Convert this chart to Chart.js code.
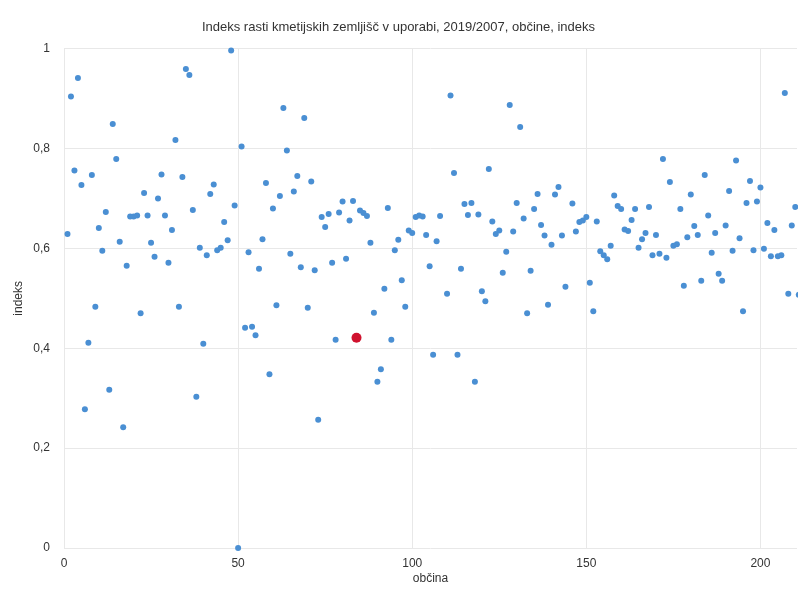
<!DOCTYPE html>
<html>
<head>
<meta charset="utf-8">
<script src="https://cdn.jsdelivr.net/npm/chart.js@4/dist/chart.umd.min.js"></script>
<style>
  html, body { margin: 0; padding: 0; background: #fff; }
  #wrap { width: 798px; height: 594px; }
</style>
</head>
<body>
<div id="wrap"><canvas id="myChart"></canvas></div>
<script>
// občina index (x) and growth index (y)
var obcina = [
  1, 2, 3, 4, 5, 6, 7, 8, 9, 10, 11, 12, 13, 14, 15, 16, 17, 18, 19, 20,
  21, 22, 23, 24, 25, 26, 27, 28, 29, 30, 31, 32, 33, 34, 35, 36, 37, 38, 39, 40,
  41, 42, 43, 44, 45, 46, 47, 48, 49, 50, 51, 52, 53, 54, 55, 56, 57, 58, 59, 60,
  61, 62, 63, 64, 65, 66, 67, 68, 69, 70, 71, 72, 73, 74, 75, 76, 77, 78, 79, 80,
  81, 82, 83, 84, 85, 86, 87, 88, 89, 90, 91, 92, 93, 94, 95, 96, 97, 98, 99, 100,
  101, 102, 103, 104, 105, 106, 107, 108, 110, 111, 112, 113, 114, 115, 116, 117, 118, 119, 120,
  121, 122, 123, 124, 125, 126, 127, 128, 129, 130, 131, 132, 133, 134, 135, 136, 137, 138, 139, 140,
  141, 142, 143, 144, 146, 147, 148, 149, 150, 151, 152, 153, 154, 155, 156, 157, 158, 159, 160,
  161, 162, 163, 164, 165, 166, 167, 168, 169, 170, 171, 172, 173, 174, 175, 176, 177, 178, 179, 180,
  181, 182, 183, 184, 185, 186, 187, 188, 189, 190, 191, 192, 193, 194, 195, 196, 197, 198, 199, 200,
  201, 202, 203, 204, 205, 206, 207, 208, 209, 210, 211
];
var indeks = [
  0.629, 0.904, 0.756, 0.941, 0.727, 0.278, 0.411, 0.747, 0.483, 0.641, 0.595, 0.673, 0.317, 0.849, 0.779, 0.613, 0.242, 0.565, 0.664, 0.664,
  0.666, 0.470, 0.711, 0.666, 0.611, 0.583, 0.700, 0.748, 0.666, 0.571, 0.637, 0.817, 0.483, 0.743, 0.959, 0.947, 0.677, 0.303, 0.601, 0.409,
  0.586, 0.709, 0.728, 0.596, 0.601, 0.653, 0.616, 0.996, 0.686, 0.000, 0.804, 0.441, 0.592, 0.443, 0.426, 0.559, 0.618, 0.731, 0.348, 0.680,
  0.486, 0.705, 0.881, 0.796, 0.589, 0.714, 0.745, 0.562, 0.861, 0.481, 0.734, 0.556, 0.257, 0.663, 0.643, 0.669, 0.571, 0.417, 0.672, 0.694,
  0.579, 0.656, 0.695, 0.421, 0.676, 0.671, 0.665, 0.611, 0.471, 0.333, 0.358, 0.519, 0.681, 0.417, 0.596, 0.617, 0.536, 0.483, 0.636, 0.631,
  0.663, 0.666, 0.664, 0.627, 0.564, 0.387, 0.614, 0.665, 0.509, 0.906, 0.751, 0.387, 0.559, 0.689, 0.667, 0.691, 0.333, 0.668, 0.514,
  0.494, 0.759, 0.654, 0.629, 0.636, 0.551, 0.593, 0.887, 0.634, 0.691, 0.843, 0.660, 0.470, 0.555, 0.679, 0.709, 0.647, 0.626, 0.487, 0.607,
  0.708, 0.723, 0.626, 0.523, 0.690, 0.634, 0.653, 0.656, 0.663, 0.531, 0.474, 0.654, 0.594, 0.586, 0.578, 0.605, 0.706, 0.685, 0.679,
  0.638, 0.635, 0.657, 0.679, 0.601, 0.618, 0.631, 0.683, 0.586, 0.627, 0.589, 0.779, 0.581, 0.733, 0.605, 0.608, 0.679, 0.525, 0.622, 0.708,
  0.645, 0.627, 0.535, 0.747, 0.666, 0.591, 0.631, 0.549, 0.535, 0.646, 0.715, 0.595, 0.776, 0.620, 0.474, 0.691, 0.735, 0.596, 0.694, 0.722,
  0.599, 0.651, 0.584, 0.637, 0.584, 0.586, 0.911, 0.509, 0.646, 0.683, 0.507
];
var highlighted = 84; // selected municipality shown in red
var yTicks = [0, 0.2, 0.4, 0.6, 0.8, 1];
var xTicks = [0, 50, 100, 150, 200];

var points = obcina.map(function (x, i) { return { x: x, y: indeks[i] }; });

var fontFamily = '"Liberation Sans", Arial, sans-serif';
var ctx = document.getElementById('myChart').getContext('2d');
var myChart = new Chart(ctx, {
  type: 'scatter',
  data: {
    datasets: [{
      label: 'indeks',
      data: points,
      pointRadius: function (c) { return c.raw && c.raw.x === highlighted ? 5 : 3; },
      pointBackgroundColor: function (c) { return c.raw && c.raw.x === highlighted ? '#d0122e' : '#4a8fd3'; },
      pointBorderWidth: 0,
      clip: 4
    }]
  },
  options: {
    responsive: true,
    maintainAspectRatio: false,
    animation: false,
    layout: { autoPadding: false, padding: { left: 0, right: 1, top: 0, bottom: 0 } },
    plugins: {
      legend: { display: false },
      tooltip: { enabled: false },
      title: {
        display: true,
        text: 'Indeks rasti kmetijskih zemljišč v uporabi, 2019/2007, občine, indeks',
        color: '#333',
        font: { family: fontFamily, size: 13, weight: 'normal' },
        padding: { top: 20, bottom: 13 }
      }
    },
    scales: {
      x: {
        type: 'linear',
        min: 0,
        max: 210.5,
        afterBuildTicks: function (s) { s.ticks = xTicks.map(function (v) { return { value: v }; }); },
        afterFit: function (s) { s.height = 46; },
        grid: { color: '#e8e8e8', drawTicks: false },
        border: { display: false },
        ticks: {
          color: '#333',
          padding: 8,
          font: { family: fontFamily, size: 12 }
        },
        title: {
          display: true,
          text: 'občina',
          color: '#333',
          padding: { top: 0, bottom: 8 },
          font: { family: fontFamily, size: 12 }
        }
      },
      y: {
        min: 0,
        max: 1,
        afterBuildTicks: function (s) { s.ticks = yTicks.map(function (v) { return { value: v }; }); },
        afterFit: function (s) { s.width = 64; },
        grid: { color: '#e8e8e8', drawTicks: false },
        border: { display: false },
        ticks: {
          color: '#333',
          padding: 14,
          font: { family: fontFamily, size: 12 },
          callback: function (v) { return String(Math.round(v * 10) / 10).replace('.', ','); }
        },
        title: {
          display: true,
          text: 'indeks',
          color: '#333',
          padding: { top: 11, bottom: 0 },
          font: { family: fontFamily, size: 12 }
        }
      }
    }
  }
});
</script>
</body>
</html>
